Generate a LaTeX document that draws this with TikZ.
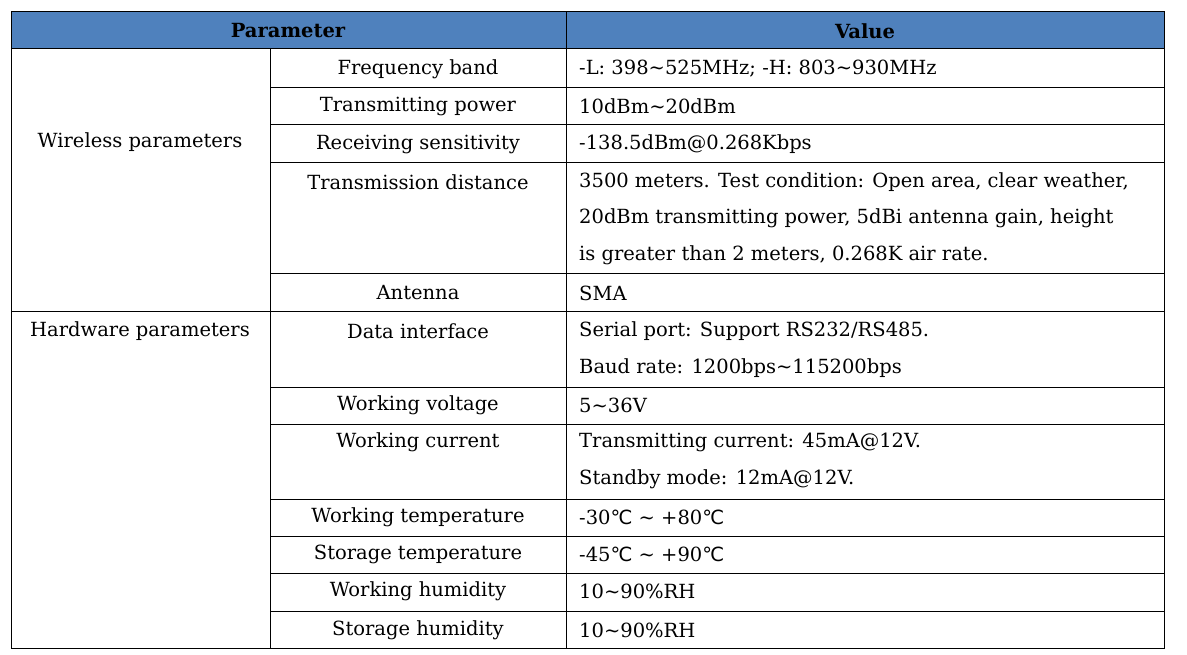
\documentclass[tikz,border=0pt]{standalone}
\usepackage{fontspec}
\setmainfont{DejaVu Serif}
\newfontfamily\symfont{DejaVu Sans}
\newcommand{\dc}{{\symfont ℃}}
\begin{document}
\begin{tikzpicture}[x=1pt,y=-1pt,
  txt/.style={font=\fontsize{19.5}{22}\selectfont,inner sep=0pt},
  lft/.style={txt,anchor=west},
  ln/.style={line width=1pt,black}]
\useasboundingbox (0,0) rectangle (1187,655);
\fill[fill={rgb,255:red,79;green,129;blue,189}] (11,12) rectangle (1164,49);
\node[txt,font=\fontsize{19.5}{22}\selectfont\bfseries] (h1) at (288,31) {Parameter};
\node[txt,font=\fontsize{19.5}{22}\selectfont\bfseries] (h2) at (865,31) {Value};
% grid
\draw[ln] (11,12) rectangle (1164,648);
\draw[ln] (566,12) -- (566,648);
\draw[ln] (270,49) -- (270,648);
\draw[ln] (11,49) -- (1164,49);
\draw[ln] (11,312) -- (1164,312);
\foreach \y in {88,125,163,274,387,424,499,536,573,611}
  \draw[ln] (270,\y) -- (1164,\y);
% column 1
\node[txt] (w) at (140,142) {Wireless parameters};
\node[txt] (hw) at (140,331) {Hardware parameters};
% column 2
\foreach \t/\y in {Frequency band/69, Transmitting power/106, Receiving sensitivity/144, Transmission distance/182, Antenna/293, Data interface/331, Working voltage/405, Working current/442, Working temperature/517, Storage temperature/554, Working humidity/591, Storage humidity/630}
  \node[txt] at (418,\y) {\t};
% column 3
\node[lft] (v1) at (579,69) {-L: 398\textasciitilde525MHz; -H: 803\textasciitilde930MHz};
\node[lft] (v2) at (579,106) {10dBm\textasciitilde20dBm};
\node[lft] (v3) at (579,144) {-138.5dBm@0.268Kbps};
\node[lft] (v4a) at (579,182) {3500 meters. Test condition: Open area, clear weather,};
\node[lft] (v4b) at (579,218) {20dBm transmitting power, 5dBi antenna gain, height};
\node[lft] (v4c) at (579,255) {is greater than 2 meters, 0.268K air rate.};
\node[lft] (v5) at (579,293) {SMA};
\node[lft] (v6a) at (579,331) {Serial port: Support RS232/RS485.};
\node[lft] (v6b) at (579,368) {Baud rate: 1200bps\textasciitilde115200bps};
\node[lft] (v7) at (579,405) {5\textasciitilde36V};
\node[lft] (v8a) at (579,442) {Transmitting current: 45mA@12V.};
\node[lft] (v8b) at (579,479) {Standby mode: 12mA@12V.};
\node[lft] (v9) at (579,517) {-30\dc{} \textasciitilde{} +80\dc};
\node[lft] (v10) at (579,554) {-45\dc{} \textasciitilde{} +90\dc};
\node[lft] (v11) at (579,591) {10\textasciitilde90\%RH};
\node[lft] (v12) at (579,630) {10\textasciitilde90\%RH};
\end{tikzpicture}
\end{document}
